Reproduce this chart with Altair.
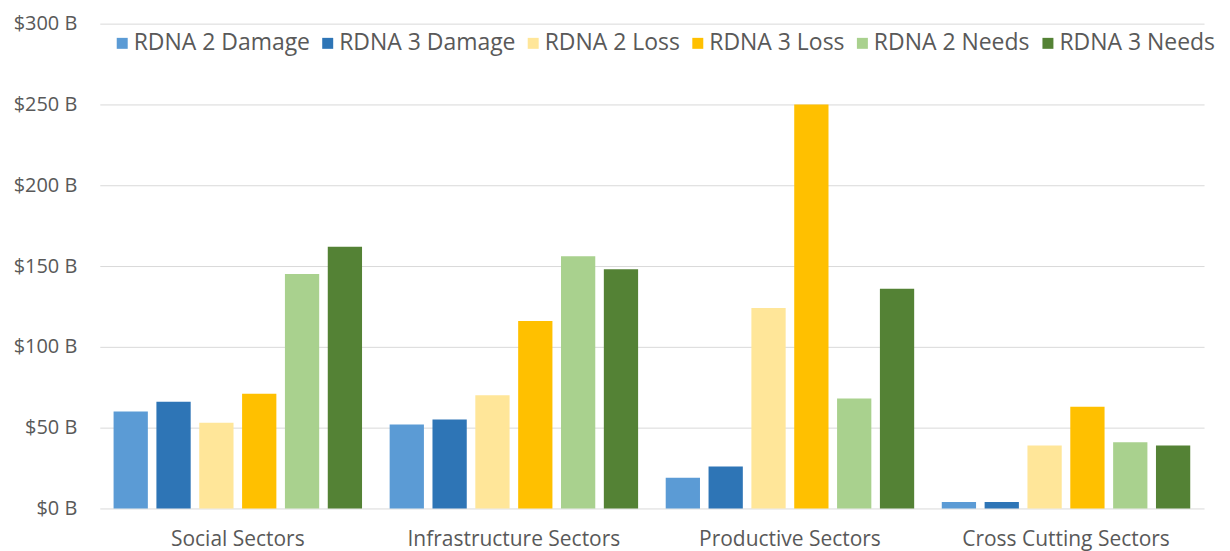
import altair as alt
import pandas as pd

sectors = ["Social Sectors", "Infrastructure Sectors", "Productive Sectors", "Cross Cutting Sectors"]
series = ["RDNA 2 Damage", "RDNA 3 Damage", "RDNA 2 Loss", "RDNA 3 Loss", "RDNA 2 Needs", "RDNA 3 Needs"]
colors = ["#5B9BD5", "#2E75B6", "#FFE699", "#FFC000", "#A9D18E", "#548235"]

rdna2_damage = [60, 52, 19, 4]
rdna3_damage = [66, 55, 26, 4]
rdna2_loss = [53, 70, 124, 39]
rdna3_loss = [71, 116, 250, 63]
rdna2_needs = [145, 156, 68, 41]
rdna3_needs = [162, 148, 136, 39]

y_ticks = [0, 50, 100, 150, 200, 250, 300]

values_by_series = [rdna2_damage, rdna3_damage, rdna2_loss, rdna3_loss, rdna2_needs, rdna3_needs]
rows = []
for s, vals in zip(series, values_by_series):
    for sec, v in zip(sectors, vals):
        rows.append({"sector": sec, "series": s, "value": v})
df = pd.DataFrame(rows)

FONT = "Open Sans"
TXT = "#595959"

chart = alt.Chart(df).mark_bar().encode(
    x=alt.X("sector:N", sort=sectors, title=None,
            scale=alt.Scale(paddingInner=0.1, paddingOuter=0.05),
            axis=alt.Axis(labelAngle=0, ticks=False, domain=False, labelPadding=20,
                          labelLimit=0,
                          labelFont=FONT, labelFontSize=21, labelColor=TXT, grid=False)),
    xOffset=alt.XOffset("series:N", sort=series,
                        scale=alt.Scale(paddingInner=0.2, paddingOuter=0)),
    y=alt.Y("value:Q", title=None,
            scale=alt.Scale(domain=[0, 300], nice=False),
            axis=alt.Axis(values=y_ticks, labelExpr="'$' + datum.value + ' B'",
                          ticks=False, domain=False, labelPadding=23,
                          labelFont=FONT, labelFontSize=20, labelColor=TXT,
                          gridColor="#D9D9D9", gridWidth=1)),
    color=alt.Color("series:N", sort=series,
                    scale=alt.Scale(domain=series, range=colors),
                    legend=alt.Legend(title=None, orient="none", direction="horizontal",
                                      columns=6, legendX=11, legendY=8,
                                      symbolType="square", symbolSize=121,
                                      symbolStrokeWidth=0, labelOffset=0,
                                      columnPadding=6, labelLimit=0,
                                      labelFont=FONT, labelFontSize=23, labelColor=TXT)),
).properties(
    width=1107,
    height=486,
    autosize=alt.AutoSizeParams(type="none"),
    padding={"left": 92, "top": 15, "right": 18, "bottom": 46},
).configure_view(stroke=None)

chart.save("out.html", embed_options={"renderer": "svg", "actions": False})
